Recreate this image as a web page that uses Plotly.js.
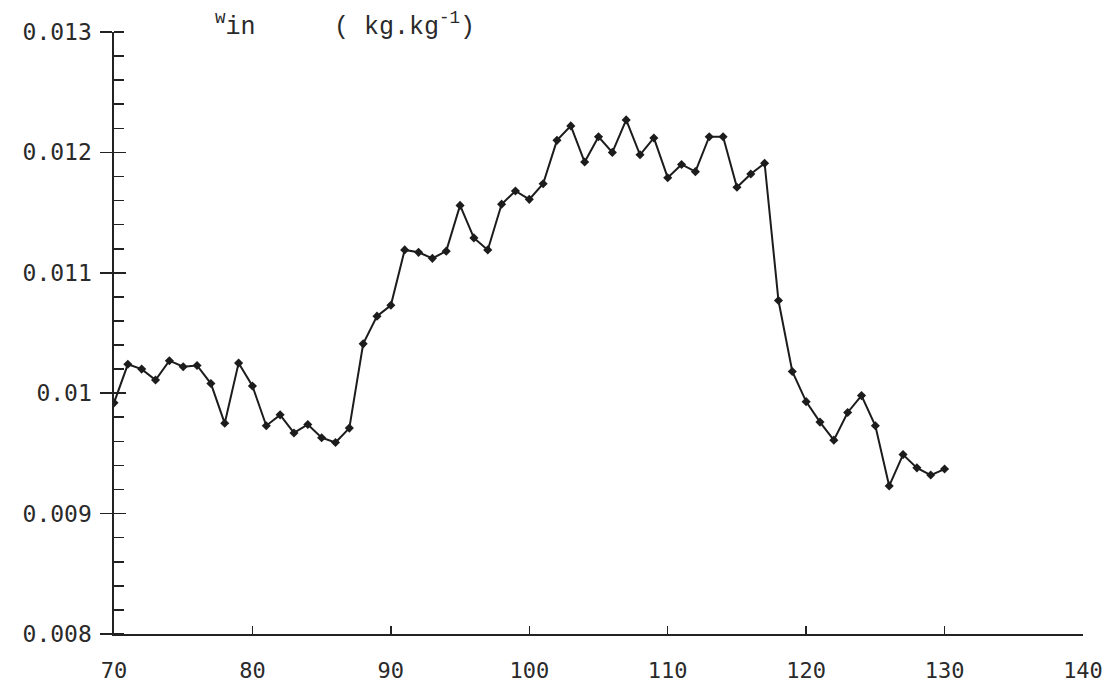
<!DOCTYPE html>
<html>
<head>
<meta charset="utf-8">
<script src="https://cdn.plot.ly/plotly-3.0.1.min.js"></script>
<style>html,body{margin:0;padding:0;background:#fff;}#chart{width:1117px;height:694px;}</style>
</head>
<body>
<div id="chart"></div>
<script>
// Time (x) and inlet humidity ratio w_in (kg/kg)
const timeX = [70,71,72,73,74,75,76,77,78,79,80,81,82,83,84,85,86,87,88,89,90,
  91,92,93,94,95,96,97,98,99,100,101,102,103,104,105,106,107,108,109,110,
  111,112,113,114,115,116,117,118,119,120,121,122,123,124,125,126,127,128,129,130];
const wIn = [0.00992,0.01024,0.01020,0.01011,0.01027,0.01022,0.01023,0.01008,0.00975,0.01025,0.01006,
  0.00973,0.00982,0.00967,0.00974,0.00963,0.00959,0.00971,0.01041,0.01064,0.01073,
  0.01119,0.01117,0.01112,0.01118,0.01156,0.01129,0.01119,0.01157,0.01168,0.01161,
  0.01174,0.01210,0.01222,0.01192,0.01213,0.01200,0.01227,0.01198,0.01212,0.01179,
  0.01190,0.01184,0.01213,0.01213,0.01171,0.01182,0.01191,0.01077,0.01018,0.00993,
  0.00976,0.00961,0.00984,0.00998,0.00973,0.00923,0.00949,0.00938,0.00932,0.00937];

const xTickVals = [70,80,90,100,110,120,130,140];
const xTickText = ["70","80","90","100","110","120","130","140"];
const yTickVals = [0.008,0.009,0.010,0.011,0.012,0.013];
const yTickText = ["0.008","0.009","0.01","0.011","0.012","0.013"];

const ink = '#222';
const xTickFont = {family: 'DejaVu Sans Mono, monospace', size: 22, color: '#2a2a2a'};
const yTickFont = {family: 'DejaVu Sans Mono, monospace', size: 23, color: '#2a2a2a'};

const trace = {
  x: timeX, y: wIn, type: 'scatter', mode: 'lines+markers',
  line: {color: '#1c1c1c', width: 2},
  marker: {symbol: 'diamond', size: 7, color: '#1c1c1c'},
  showlegend: false, hoverinfo: 'x+y'
};
// invisible helper trace for the second y axis (inside halves of major ticks)
const helper = {x: [70], y: [0.008], yaxis: 'y2', mode: 'markers',
  marker: {opacity: 0}, showlegend: false, hoverinfo: 'skip'};

const layout = {
  width: 1117, height: 694,
  margin: {l: 114, r: 34, t: 32, b: 60},
  paper_bgcolor: '#fff', plot_bgcolor: '#fff',
  xaxis: {
    range: [70, 140], showgrid: false, zeroline: false,
    showline: true, linecolor: ink, linewidth: 1.6,
    ticks: 'inside', ticklen: 8, tickwidth: 1.3, tickcolor: ink,
    tickvals: xTickVals, ticktext: xTickText,
    tickfont: xTickFont, ticklabelstandoff: 16
  },
  yaxis: {
    range: [0.008, 0.013], showgrid: false, zeroline: false,
    showline: true, linecolor: ink, linewidth: 1.6,
    ticks: 'outside', ticklen: 12, tickwidth: 1.6, tickcolor: ink,
    tickvals: yTickVals, ticktext: yTickText,
    tickfont: yTickFont, ticklabelstandoff: 4,
    minor: {ticks: 'inside', ticklen: 10, tickwidth: 1.6, tickcolor: ink, dtick: 0.0002, tick0: 0.008, showgrid: false}
  },
  yaxis2: {
    range: [0.008, 0.013], overlaying: 'y', side: 'left',
    showgrid: false, zeroline: false, showline: false,
    ticks: 'inside', ticklen: 12, tickwidth: 1.6, tickcolor: ink,
    tickvals: yTickVals, showticklabels: false
  },
  annotations: [
    {xref: 'paper', yref: 'paper', x: 0.102, y: 1, xanchor: 'left', yanchor: 'bottom',
     yshift: -12, showarrow: false, text: '<sup>w</sup>in',
     font: {family: 'Liberation Mono, monospace', size: 25, color: '#2a2a2a'}},
    {xref: 'paper', yref: 'paper', x: 0.225, y: 1, xanchor: 'left', yanchor: 'bottom',
     yshift: -12, showarrow: false, text: '( kg.kg<sup>-1</sup>)',
     font: {family: 'Liberation Mono, monospace', size: 25, color: '#2a2a2a'}}
  ]
};

Plotly.newPlot('chart', [trace, helper], layout, {displayModeBar: false, staticPlot: true});
</script>
</body>
</html>
